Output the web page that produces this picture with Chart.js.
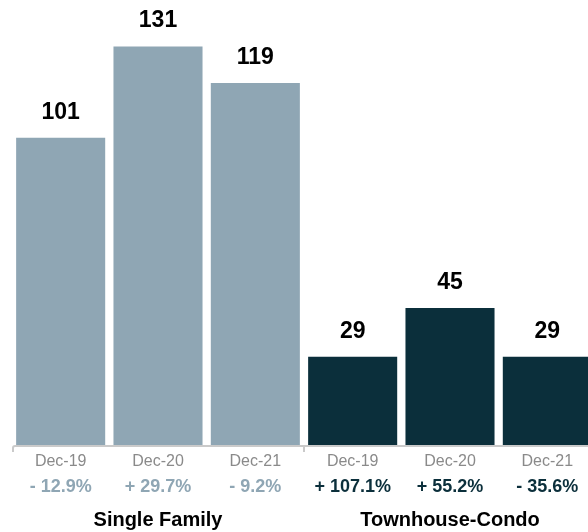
<!DOCTYPE html>
<html>
<head>
<meta charset="utf-8">
<script src="https://cdn.jsdelivr.net/npm/chart.js@4"></script>
<style>
  html, body { margin: 0; padding: 0; overflow: hidden; background: #fff; }
  #wrap { width: 596px; height: 532px; }
</style>
</head>
<body>
<div id="wrap"><canvas id="salesChart"></canvas></div>
<script>
const periods = ['Dec-19', 'Dec-20', 'Dec-21', 'Dec-19', 'Dec-20', 'Dec-21'];
const sales = [101, 131, 119, 29, 45, 29];
const changes = ['- 12.9%', '+ 29.7%', '- 9.2%', '+ 107.1%', '+ 55.2%', '- 35.6%'];
const groups = ['Single Family', 'Townhouse-Condo'];
const groupSize = 3;

const lightColor = '#8fa6b4';
const darkColor = '#0b2f3b';
const barColors = sales.map((v, i) => i < groupSize ? lightColor : darkColor);

const labelPlugin = {
    id: 'labels',
    afterDatasetsDraw(chart) {
        const ctx = chart.ctx;
        const meta = chart.getDatasetMeta(0);
        const area = chart.chartArea;
        const base = area.bottom;
        ctx.save();

        // value labels above bars
        ctx.textAlign = 'center';
        ctx.textBaseline = 'alphabetic';
        ctx.fillStyle = '#000';
        ctx.font = 'bold 23px "Liberation Sans", Arial, sans-serif';
        meta.data.forEach((bar, i) => {
            ctx.fillText(sales[i], bar.x, bar.y - 19);
        });

        // axis line
        ctx.strokeStyle = '#cacaca';
        ctx.lineWidth = 2;
        ctx.beginPath();
        ctx.moveTo(area.left + 1, base + 7);
        ctx.lineTo(area.left + 1, base + 3);
        ctx.quadraticCurveTo(area.left + 1, base + 1, area.left + 3, base + 1);
        ctx.lineTo(area.right, base + 1);
        ctx.stroke();
        const mid = (meta.data[2].x + meta.data[3].x) / 2;
        ctx.beginPath();
        ctx.moveTo(mid, base + 1);
        ctx.lineTo(mid, base + 7);
        ctx.stroke();

        // period and change labels
        ctx.textBaseline = 'middle';
        meta.data.forEach((bar, i) => {
            ctx.font = '16px "Liberation Sans", Arial, sans-serif';
            ctx.fillStyle = '#8a8a8a';
            ctx.fillText(periods[i], bar.x, base + 17);
            ctx.font = 'bold 18px "Liberation Sans", Arial, sans-serif';
            ctx.fillStyle = i < groupSize ? lightColor : darkColor;
            ctx.fillText(changes[i], bar.x, base + 42);
        });

        // group labels
        ctx.font = 'bold 20px "Liberation Sans", Arial, sans-serif';
        ctx.fillStyle = '#000';
        groups.forEach((g, gi) => {
            const x = meta.data[gi * groupSize + 1].x;
            ctx.fillText(g, x, base + 75);
        });
        ctx.restore();
    }
};

const ctx = document.getElementById('salesChart').getContext('2d');
new Chart(ctx, {
    type: 'bar',
    data: {
        labels: periods,
        datasets: [{
            data: sales,
            backgroundColor: barColors,
            borderWidth: 0,
            categoryPercentage: 1,
            barPercentage: 0.915
        }]
    },
    options: {
        responsive: true,
        maintainAspectRatio: false,
        animation: false,
        layout: { padding: { top: 19, bottom: 87, left: 12, right: 0 } },
        scales: {
            x: { display: false },
            y: { display: false, min: 0, max: 140 }
        },
        plugins: {
            legend: { display: false },
            tooltip: { enabled: false }
        }
    },
    plugins: [labelPlugin]
});
</script>
</body>
</html>
